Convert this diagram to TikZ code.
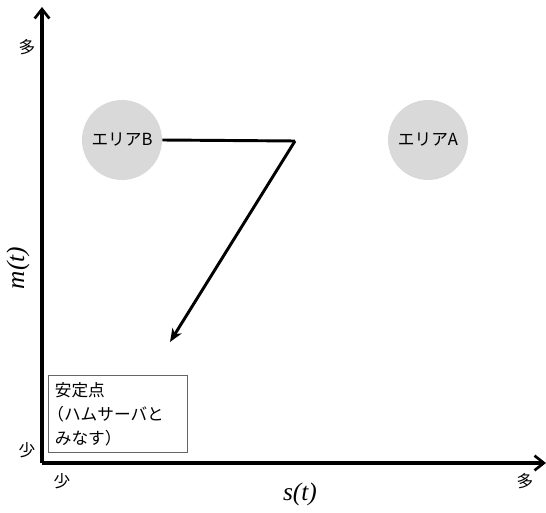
\documentclass[tikz,border=0pt]{standalone}
\usepackage{fontspec}
\setmainfont{Liberation Serif}
\newfontfamily\jpfont{Noto Sans CJK JP}
\usetikzlibrary{arrows, arrows.meta, positioning}

\begin{document}
\begin{tikzpicture}[
    x=0.75pt, y=-0.75pt,
    axis/.style={-{Straight Barb[length=7pt,width=11pt,line width=2pt]},line width=2.4pt},
    area node/.style={circle,fill=black!15,minimum size=60pt,inner sep=0pt,font=\jpfont\fontsize{12.5}{15}\selectfont},
    label node/.style={font=\jpfont\fontsize{12.5}{14}\selectfont},
    var node/.style={font=\itshape\fontsize{19}{22}\selectfont},
    stable node/.style={rectangle,draw=black!60,thin,minimum width=104pt,minimum height=58pt,align=left,text width=94pt,inner xsep=5pt,font=\jpfont\fontsize{12.5}{18}\selectfont},
    arrow/.style={-{Stealth[length=10pt,width=8pt,inset=3pt]},line width=2.2pt}
]
\useasboundingbox (0,0) rectangle (546,513);

% axes
\coordinate (origin) at (42,463);
\coordinate (ytip) at (42,7);
\coordinate (xtip) at (546,463);
\draw[axis] (origin) -- (ytip);
\draw[axis] (origin) -- (xtip);

\node[label node] (ymax) at (27,47) {多};
\node[label node] (ymin) at (27,450) {少};
\node[label node] (xmin) at (62,481) {少};
\node[label node] (xmax) at (525,481) {多};
\node[var node] (xlabel) at (300,494) {s(t)};
\node[var node,rotate=90] (ylabel) at (18,268) {m(t)};

% areas
\node[area node] (areaB) at (122,140) {エリアB};
\node[area node] (areaA) at (428,140) {エリアA};

\node[stable node] (stable) at (117.5,414) {安定点\\\hspace*{-0.45em}（ハムサーバと\\みなす）};

% trajectory
\coordinate (bend) at (295,141);
\coordinate (goal) at (170,342);
\draw[line width=2.2pt,line join=miter] (areaB.east) -- (bend);
\draw[arrow] (bend) -- (goal);

\end{tikzpicture}
\end{document}
